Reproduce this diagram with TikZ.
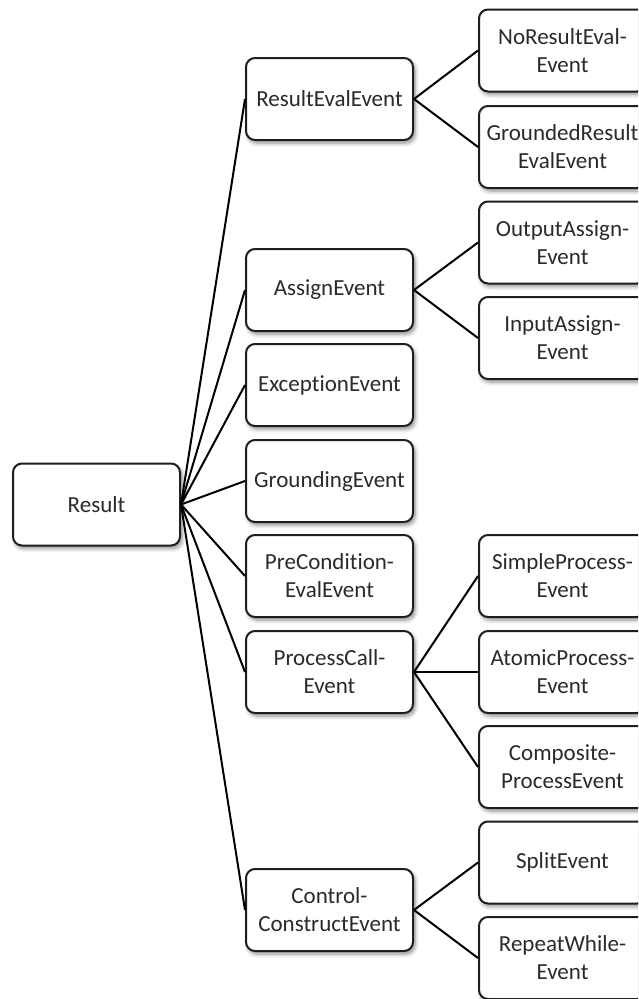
\documentclass[tikz,border=0pt]{standalone}
\usepackage{fontspec}
\setmainfont{Carlito}[Ligatures={NoCommon}]
\usetikzlibrary{shadows.blur}
\definecolor{textgray}{HTML}{2A2A2A}
\definecolor{edgegray}{HTML}{1E1E1E}
\tikzset{
  box/.style={draw=edgegray, line width=2pt, rounded corners=9pt, fill=white,
    minimum width=167pt, minimum height=82pt, inner sep=2pt, align=center,
    text=textgray, font=\fontsize{23}{28}\selectfont,
    blur shadow={shadow xshift=2pt, shadow yshift=-3pt, shadow blur radius=4pt,
      shadow blur steps=6, shadow opacity=45}},
  link/.style={line width=2pt, black}
}
\begin{document}
\begin{tikzpicture}[x=1pt, y=-1pt]
\useasboundingbox (0,0) rectangle (638,999);
\clip (0,0) rectangle (638,999);
% root
\node[box] (root) at (96.5,504.5) {Result};
% second level
\node[box] (reval)  at (329.5,99)   {ResultEvalEvent};
\node[box] (assign) at (329.5,290)  {AssignEvent};
\node[box] (exc)    at (329.5,385)  {ExceptionEvent};
\node[box] (ground) at (329.5,481)  {GroundingEvent};
\node[box] (precon) at (329.5,576)  {PreCondition-\\EvalEvent};
\node[box] (pcall)  at (329.5,672)  {ProcessCall-\\Event};
\node[box] (ctrl)   at (329.5,910)  {Control-\\ConstructEvent};
% third level
\node[box] (noreval) at (562.5,50.5) {NoResultEval-\\Event};
\node[box] (greval)  at (562.5,147)  {GroundedResult\\EvalEvent};
\node[box] (outa)    at (562.5,242.5){OutputAssign-\\Event};
\node[box] (ina)     at (562.5,338)  {InputAssign-\\Event};
\node[box] (simple)  at (562.5,576)  {SimpleProcess-\\Event};
\node[box] (atomic)  at (562.5,672)  {AtomicProcess-\\Event};
\node[box] (comp)    at (562.5,767)  {Composite-\\ProcessEvent};
\node[box] (split)   at (562.5,862.5){SplitEvent};
\node[box] (repeat)  at (562.5,958)  {RepeatWhile-\\Event};
% connectors
\foreach \c in {reval,assign,exc,ground,precon,pcall,ctrl}
  \draw[link] (root.east) -- (\c.west);
\foreach \c in {noreval,greval} \draw[link] (reval.east) -- (\c.west);
\foreach \c in {outa,ina} \draw[link] (assign.east) -- (\c.west);
\foreach \c in {simple,atomic,comp} \draw[link] (pcall.east) -- (\c.west);
\foreach \c in {split,repeat} \draw[link] (ctrl.east) -- (\c.west);
\end{tikzpicture}
\end{document}
